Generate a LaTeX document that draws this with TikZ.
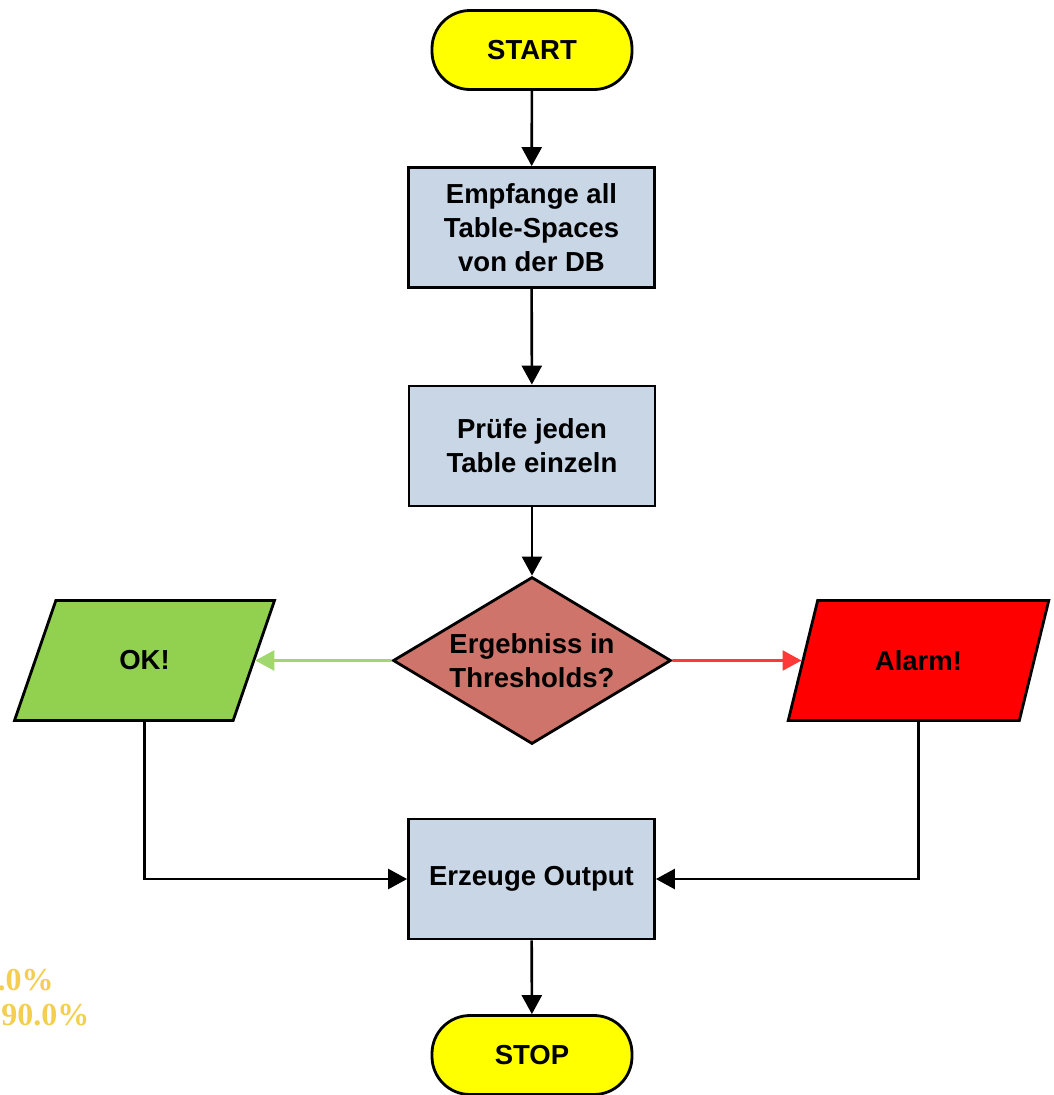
\documentclass[tikz,border=0pt]{standalone}
\usepackage{fontspec}
\setmainfont{Liberation Sans}
\newfontfamily\pctfont{Liberation Serif}
\usetikzlibrary{shapes.geometric,arrows.meta}
\definecolor{termyellow}{RGB}{255,255,0}
\definecolor{procblue}{RGB}{201,214,230}
\definecolor{decred}{RGB}{206,116,106}
\definecolor{okgreen}{RGB}{146,208,80}
\definecolor{alarmred}{RGB}{255,0,0}
\definecolor{yesgreen}{RGB}{160,216,110}
\definecolor{nored}{RGB}{255,56,56}
\definecolor{pctgold}{RGB}{244,206,80}

\begin{document}
\begin{tikzpicture}[
  x=1pt, y=-1pt,
  every node/.style={draw,line width=2.8pt,font=\fontsize{27.5}{34}\selectfont\bfseries,align=center},
  term/.style={rectangle,rounded corners=38pt,fill=termyellow,minimum width=200pt,minimum height=79pt},
  proc/.style={rectangle,fill=procblue,minimum width=246pt,minimum height=120pt},
  dec/.style={diamond,aspect=1.66,fill=decred,minimum width=278pt,minimum height=167pt,inner sep=0pt},
  io/.style={trapezium,trapezium left angle=63,trapezium right angle=117,
    trapezium stretches=true,minimum width=261pt,minimum height=120pt},
  >={Triangle[length=19pt,width=20pt]}
]
  \useasboundingbox (0,0) rectangle (1054,1095);

  \node[term] (start) at (532,50)     {START};
  \node[proc] (recv)  at (531.5,227.5) {Empfange all\\Table-Spaces\\von der DB};
  \node[proc] (check) at (532,446)    {Prüfe jeden\\Table einzeln};
  \node[dec]  (thr)   at (532,660.5)  {Ergebniss in\\Thresholds?};
  \node[io,fill=okgreen]   (ok)    at (144.5,660.5) {OK!};
  \node[io,fill=alarmred]  (alarm) at (918.5,660.5) {Alarm!};
  \node[proc] (out)   at (531.5,879)  {Erzeuge Output};
  \node[term] (stop)  at (532,1055)   {STOP};

  \begin{scope}[->, line width=2.6pt]
    \draw (start) -- (recv);
    \draw (recv) -- (check);
    \draw (check) -- (thr);
    \draw[yesgreen] (thr) -- (ok);
    \draw[nored] (thr) -- (alarm);
    \draw (ok) |- (out);
    \draw (alarm) |- (out);
    \draw (out) -- (stop);
  \end{scope}

  % leftover percentages at the left border
  \node[draw=none,inner sep=0pt,anchor=east,text=pctgold,font=\pctfont\fontsize{32}{34}\selectfont\bfseries] (pcta) at (55,980) {.0\%};
  \node[draw=none,inner sep=0pt,anchor=west,text=pctgold,font=\pctfont\fontsize{32}{34}\selectfont\bfseries] (pctb) at (0,1015) {90.0\%};
\end{tikzpicture}
\end{document}
